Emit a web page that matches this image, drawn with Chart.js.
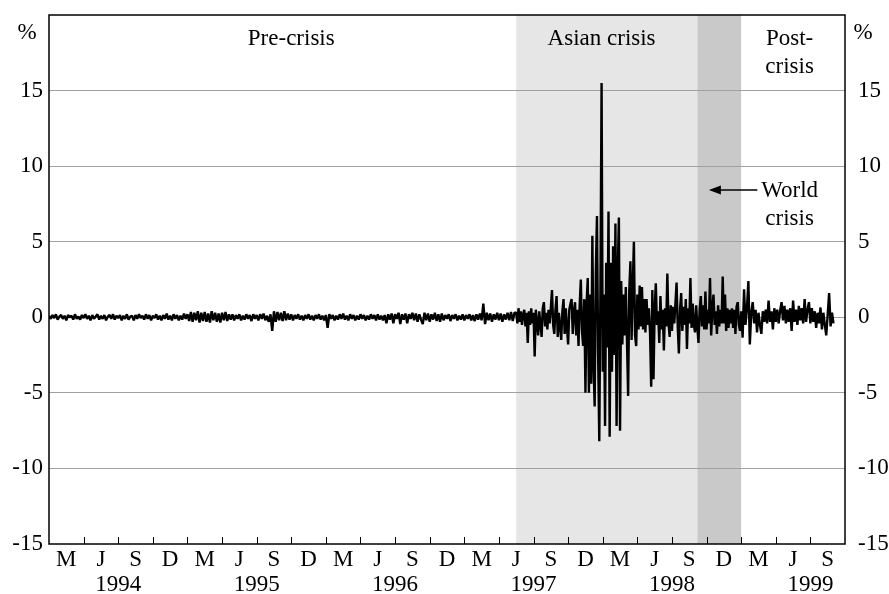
<!DOCTYPE html>
<html>
<head>
<meta charset="utf-8">
<title>Daily returns 1994-1999</title>
<script src="https://cdn.jsdelivr.net/npm/chart.js@4"></script>
<style>
  html, body { margin: 0; padding: 0; background: #fff; }
  canvas { display: block; }
</style>
</head>
<body>
<canvas id="chart" width="889" height="594"></canvas>
<script>
// Axis labels
const quarterLetters = ['M', 'J', 'S', 'D'];
const yearLabels = ['1994', '1995', '1996', '1997', '1998', '1999'];
const yTicks = [-15, -10, -5, 0, 5, 10, 15];

// Periods (months since January 1994)
const asianCrisis = [40.5, 56.2];
const worldCrisis = [56.2, 60];

// Series; each block has its own start month and step
const preStart = 0, preStep = 0.15;
const preValues = [
    0.1, -0.1, 0.15, -0.05, 0.2, -0.15, 0.05, 0.15, -0.1, 0.1, -0.2, 0.15, 0, 0.1, -0.15,
    0.2, -0.1, 0.05, -0.15, 0.15, -0.05, 0.2, -0.1, 0.1, -0.2, 0.15, -0.1, 0.05, 0.2, -0.15,
    0.1, -0.1, 0.15, -0.2, 0.05, 0.15, -0.1, 0.2, -0.15, 0.1, -0.05, 0.15, -0.2, 0.1, -0.1,
    0.2, -0.15, 0.05, 0.1, -0.2, 0.15, -0.1, 0.2, -0.05, 0.1, -0.15, 0.2, -0.1, 0.15, -0.2,
    0.1, -0.05, 0.2, -0.15, 0.1, -0.2, 0.15, -0.1, 0.25, -0.15, 0.1, -0.2, 0.2, -0.1, 0.15,
    -0.2, 0.1, -0.15, 0.25, -0.1, 0.2, -0.25, 0.35, -0.3, 0.3, -0.2, 0.4, -0.35, 0.3, -0.25,
    0.35, -0.3, 0.25, -0.35, 0.4, -0.2, 0.3, -0.3, 0.25, -0.35, 0.3, -0.2, 0.35, -0.25, 0.2,
    -0.15, 0.2, -0.2, 0.15, -0.1, 0.2, -0.2, 0.1, -0.15, 0.2, -0.1, 0.15, -0.25, 0.2, -0.1,
    0.15, -0.2, 0.2, -0.1, 0.25, -0.2, 0.1, -0.3, 0.2, -0.9, 0.4, -0.3, 0.35, -0.2, 0.3,
    -0.25, 0.4, -0.2, 0.25, -0.15, 0.2, -0.2, 0.15, -0.1, 0.2, -0.15, 0.1, -0.2, 0.15, -0.1,
    0.2, -0.15, 0.1, -0.2, 0.15, -0.1, 0.2, -0.15, 0.1, -0.2, 0.15, -0.7, 0.2, -0.1, 0.15,
    -0.2, 0.1, -0.15, 0.2, -0.1, 0.25, -0.15, 0.1, -0.2, 0.2, -0.1, 0.15, -0.2, 0.1, -0.15,
    0.2, -0.1, 0.15, -0.2, 0.1, -0.15, 0.2, -0.1, 0.15, -0.2, 0.2, -0.15, 0.1, -0.2, 0.15,
    -0.4, 0.2, -0.15, 0.25, -0.4, 0.2, -0.1, 0.3, -0.45, 0.2, -0.15, 0.25, -0.4, 0.2, -0.1,
    0.3, -0.2, 0.25, -0.3, 0.2, -0.15, -0.45, 0.3, -0.2, 0.25, -0.3, 0.2, -0.15, 0.3, -0.25,
    0.2, -0.3, 0.25, -0.2, 0.15, -0.1, 0.2, -0.25, 0.15, -0.1, 0.2, -0.2, 0.1, -0.15, 0.2,
    -0.2, 0.15, -0.1, 0.2, -0.2, 0.15, -0.25, 0.2, -0.15, 0.25, -0.2, 0.9, -0.45, 0.3, -0.2,
    0.25, -0.3, 0.2, -0.15, 0.3, -0.2, 0.25, -0.3, 0.2, -0.15, 0.3, -0.2, 0.35, -0.25, 0.3
];

const crisisStart = 40.5, crisisStep = 0.1;
const crisisValues = [
    0.3, -0.4, 0.6, -0.3, 0.4, -0.5, 0.2, 0.5, -0.6, 0.3,
    -1.7, 0.4, -0.5, 0.6, -0.4, 0.3, -2.6, 0.5, -0.3, -1.2,
    0.4, -0.5, -1.3, 0.6, 1.0, -0.6, 0.3, -0.8, 0.5, -0.4,
    0.6, 1.8, -0.5, -1.1, 0.5, 1.4, -1.3, 0.3, -0.6, -1.5,
    0.4, 1.2, -1.1, 0.6, -0.7, -1.8, 0.5, 0.9, 1.2, -1.1,
    0.4, 1.0, -1.2, 0.5, -1.9, 0.8, 2.5, -0.9, -1.9, 1.2,
    -5.0, 0.9, 2.6, -5.0, 1.5, -4.4, 5.4, -3.0, -5.9, 3.0,
    6.7, -2.5, -8.2, 2.0, 15.5, -3.6, 1.5, -7.2, 3.6, -2.0,
    7.0, -7.9, 3.6, -3.6, 4.7, -2.5, 6.2, -7.2, 3.0, 6.6,
    -7.5, 2.4, -1.8, 1.5, -1.2, 2.0, -1.5, -5.2, 1.8, 3.7,
    -1.5, 2.0, 5.0, -1.2, -1.9, 1.5, -0.8, 2.1, -0.6, 2.0,
    -0.8, 1.2, -1.0, 1.2, -0.5, 0.6, -1.0, -4.6, 1.8, -4.1,
    0.5, 2.25, -0.5, 0.4, -1.7, 1.4, -0.8, 0.5, -2.2, 0.6,
    -0.6, 2.9, -0.4, -1.3, 0.8, -0.9, 0.7, -0.4, 0.9, 2.3,
    -0.6, -2.4, 0.5, 1.6, -0.9, 0.7, -0.5, 1.2, -2.1, 0.6,
    -0.4, 2.6, -0.7, 0.9, -0.5, -1.0, 0.8, -0.6, -1.7, 0.5,
    1.4, -0.6, 0.8, -0.8, 1.7, -0.8, 0.5, -0.4, 2.6, -1.2,
    0.6, 1.5, -0.5, 0.4, -1.1, 0.8, -0.6, 0.5, -0.4, 2.7,
    -0.4, 1.5, -0.9, 0.6, -0.7, 0.5, -0.4, 0.6, -0.7, 0.5,
    -1.1, 0.7, 1.0, -0.5, -0.9
];

const postStart = 60, postStep = 0.125;
const postValues = [
    0.4, -1.35, 1.85, -0.5, 0.6, 2.4, -1.8, 0.3, 1.0, -0.4,
    0.5, -1.0, 0.3, -0.5, -1.1, 0.4, -0.3, 0.5, -0.4, 1.1,
    -0.3, 0.4, -0.8, 0.6, -0.3, 0.5, -0.4, 0.4, 1.0, -0.2,
    0.75, -0.4, 0.5, -0.3, 0.6, -0.9, 1.1, -0.3, 0.5, -0.5,
    0.75, -0.2, 0.6, -0.4, 1.2, -0.3, 0.5, 1.0, -0.4, 0.6,
    -0.3, 0.4, -0.7, 0.3, -0.4, 0.65, -0.8, 0.3, -0.5, -1.2,
    0.2, 1.6, -0.6, 0.3, -0.4
];

const toPoints = (start, step, values) => values.map((v, i) => ({ x: start + i * step, y: v }));
const series = [
    ...toPoints(preStart, preStep, preValues),
    ...toPoints(crisisStart, crisisStep, crisisValues),
    ...toPoints(postStart, postStep, postValues)
];

const FONT = "'Liberation Serif', 'Times New Roman', serif";

// Shading, frame, tick marks and notes
const decorations = {
    id: 'decorations',
    beforeDraw(chart) {
        const { ctx, chartArea: a, scales: { x } } = chart;
        ctx.save();
        ctx.fillStyle = '#fff';
        ctx.fillRect(0, 0, chart.width, chart.height);
        const band = (range, colour) => {
            const x0 = x.getPixelForValue(range[0]);
            const x1 = x.getPixelForValue(range[1]);
            ctx.fillStyle = colour;
            ctx.fillRect(x0, a.top, x1 - x0, a.bottom - a.top);
        };
        band(asianCrisis, '#e6e6e6');
        band(worldCrisis, '#c9c9c9');
        ctx.restore();
    },
    afterDraw(chart) {
        const { ctx, chartArea: a, scales: { x, y } } = chart;
        ctx.save();

        // frame
        ctx.strokeStyle = '#000';
        ctx.lineWidth = 1.5;
        ctx.strokeRect(a.left, a.top, a.right - a.left, a.bottom - a.top);

        // inward quarter ticks
        ctx.lineWidth = 1;
        for (let m = 3; m < x.max; m += 3) {
            const px = Math.round(x.getPixelForValue(m)) + 0.5;
            ctx.beginPath();
            ctx.moveTo(px, a.bottom);
            ctx.lineTo(px, a.bottom - 7);
            ctx.stroke();
        }

        ctx.fillStyle = '#000';
        ctx.font = `23px ${FONT}`;
        ctx.textAlign = 'center';
        ctx.textBaseline = 'alphabetic';
        const text = (s, mx, vy) => ctx.fillText(s, x.getPixelForValue(mx), y.getPixelForValue(vy));
        text('Pre-crisis', 21.0, 18.0);
        text('Asian crisis', 47.9, 18.0);
        text('Post-', 64.2, 18.0);
        text('crisis', 64.2, 16.15);
        text('World', 64.2, 7.95);
        text('crisis', 64.2, 6.1);

        // % unit labels
        ctx.fillText('%', 27, 39);
        ctx.fillText('%', 863, 39);

        // arrow to the world crisis band
        const ay = y.getPixelForValue(8.42);
        const tip = x.getPixelForValue(57.2);
        const tail = x.getPixelForValue(61.4);
        ctx.lineWidth = 1.5;
        ctx.beginPath();
        ctx.moveTo(tail, ay);
        ctx.lineTo(tip + 8, ay);
        ctx.stroke();
        ctx.beginPath();
        ctx.moveTo(tip, ay);
        ctx.lineTo(tip + 12, ay - 4.5);
        ctx.lineTo(tip + 12, ay + 4.5);
        ctx.closePath();
        ctx.fill();

        ctx.restore();
    }
};

const noPadding = scale => {
    scale.paddingTop = 0;
    scale.paddingBottom = 0;
    scale.paddingLeft = 0;
    scale.paddingRight = 0;
};

const yScale = (position, width, padding) => ({
    type: 'linear',
    position,
    min: -15,
    max: 20,
    border: { display: false },
    grid: {
        drawTicks: false,
        color: ctx => yTicks.includes(ctx.tick.value) && ctx.tick.value !== -15 ? '#a0a0a0' : 'rgba(0,0,0,0)',
        lineWidth: 1
    },
    ticks: {
        stepSize: 5,
        padding,
        color: '#000',
        font: { family: FONT, size: 23 },
        callback: v => (yTicks.includes(v) ? String(v) : '')
    },
    afterFit: scale => { scale.width = width; noPadding(scale); }
});

new Chart(document.getElementById('chart').getContext('2d'), {
    type: 'line',
    data: {
        datasets: [{
            data: series,
            borderColor: '#000',
            borderWidth: 2.4,
            borderJoinStyle: 'bevel',
            pointRadius: 0,
            tension: 0,
            fill: false
        }]
    },
    options: {
        responsive: false,
        animation: false,
        parsing: false,
        layout: { padding: { top: 15, left: 0, right: 0, bottom: 0 } },
        plugins: { legend: { display: false }, tooltip: { enabled: false } },
        scales: {
            x: {
                type: 'linear',
                min: 0,
                max: 69,
                border: { display: false },
                grid: { display: false, drawTicks: false },
                ticks: {
                    stepSize: 1.5,
                    autoSkip: false,
                    maxRotation: 0,
                    minRotation: 0,
                    padding: 3,
                    color: '#000',
                    font: { family: FONT, size: 23, lineHeight: 1.09 },
                    callback: v => {
                        const k = Math.round(v / 1.5);
                        if (k % 2 === 1) return quarterLetters[((k - 1) / 2) % 4];
                        if (k % 8 === 4) return ['', yearLabels[(k - 4) / 8]];
                        return '';
                    }
                },
                afterFit: scale => { scale.height = 50; noPadding(scale); }
            },
            y: yScale('left', 49, 6),
            y2: yScale('right', 44, 13)
        }
    },
    plugins: [decorations]
});
</script>
</body>
</html>
